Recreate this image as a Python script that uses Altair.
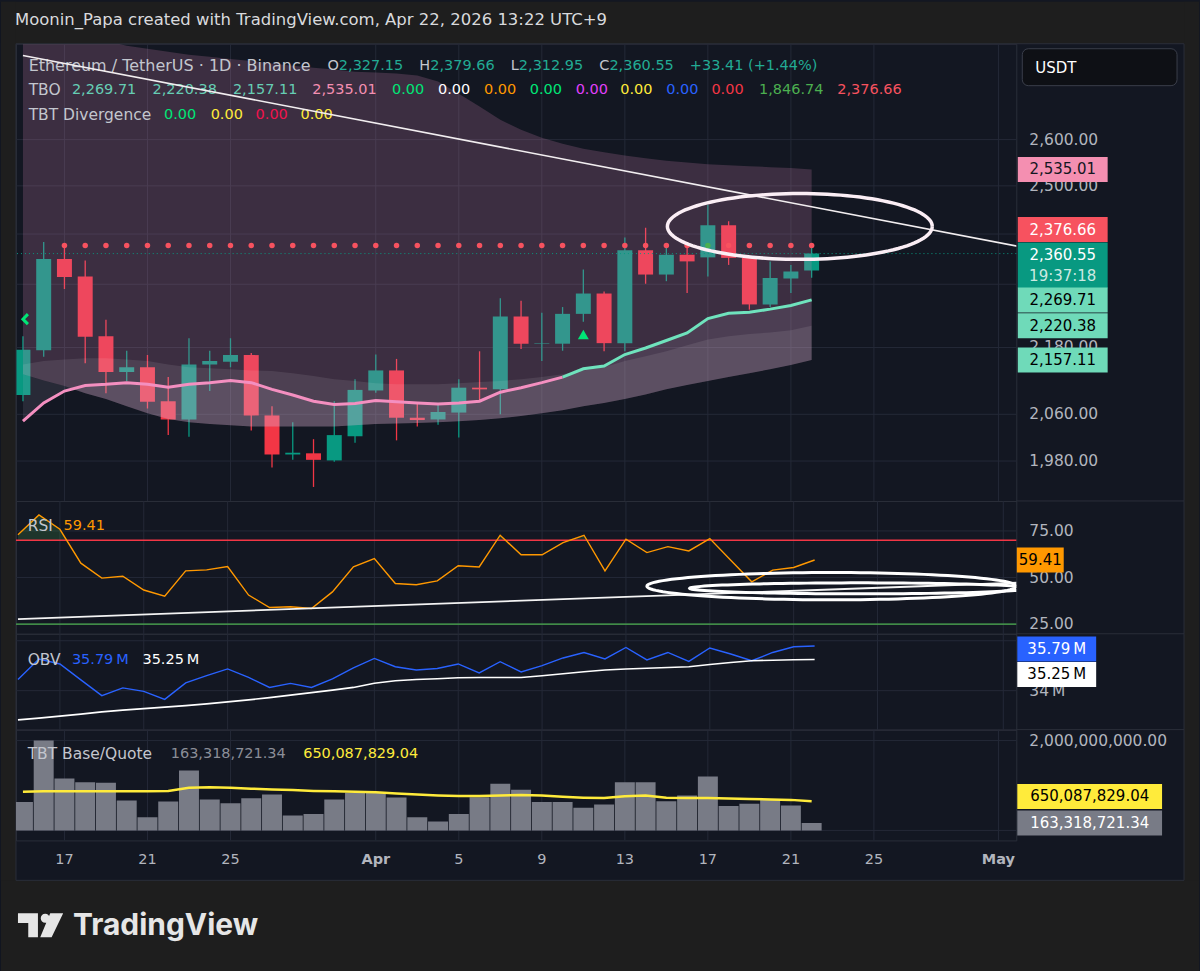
import altair as alt
import numpy as np
import pandas as pd

# ---------------- categories ----------------
dates = list(pd.date_range("2026-03-15", "2026-04-22", freq="D").strftime("%Y-%m-%d"))
tick_dates = ["2026-03-17", "2026-03-21", "2026-03-25", "2026-04-01", "2026-04-05", "2026-04-09",
              "2026-04-13", "2026-04-17", "2026-04-21", "2026-04-25", "2026-05-01"]
tick_labels = ["17", "21", "25", "Apr", "5", "9", "13", "17", "21", "25", "May"]
price_ticks = [1980, 2060, 2180, 2300, 2400, 2500, 2600]
price_labelled = [1980, 2060, 2180, 2500, 2600]      # 2300 / 2400 sit under the price tags
rsi_ticks = [25, 50, 75]
obv_ticks = [34, 36]
obv_labelled = [34]                                   # 36M sits under the OBV tag
vol_ticks = [0, 2_000_000_000]
vol_labelled = [2_000_000_000]                        # 0.00 sits under the volume tag

# ---------------- ETH/USDT daily candles ----------------
open_ = [2094, 2175, 2350, 2315, 2201, 2135, 2144, 2083, 2051, 2149, 2154, 2166, 2058, 1991, 1993, 1981, 2022,
         2102, 2138, 2054, 2051, 2063, 2107, 2104, 2238, 2187, 2187, 2243, 2282, 2188, 2367, 2319, 2358, 2353,
         2418, 2352, 2261, 2311, 2327.15]
high = [2201, 2384, 2372, 2347, 2232, 2174, 2166, 2126, 2197, 2174, 2197, 2170, 2074, 2046, 2017, 2083, 2122,
        2167, 2159, 2078, 2080, 2122, 2173, 2273, 2268, 2245, 2256, 2329, 2286, 2393, 2413, 2378, 2375, 2460,
        2426, 2356, 2345, 2338, 2379.66]
low = [2083, 2163, 2291, 2151, 2097, 2119, 2070, 2024, 2021, 2101, 2144, 2032, 1969, 1982, 1937, 1979, 2011,
       2098, 2015, 2039, 2042, 2020, 2083, 2060, 2177, 2155, 2174, 2228, 2173, 2173, 2301, 2306, 2283, 2315,
       2338, 2251, 2256, 2283, 2312.95]
close = [2176, 2350, 2314, 2200, 2135, 2144, 2082, 2051, 2149, 2155, 2166, 2058, 1991, 1994, 1982, 2024, 2103,
         2138, 2054, 2050, 2064, 2107, 2104, 2238, 2187, 2188, 2243, 2282, 2188, 2367, 2319, 2358, 2345, 2418,
         2352, 2261, 2312, 2325, 2360.55]

# ---------------- TBO bands ----------------
tbo_top = [2873, 2859, 2846, 2837, 2827, 2815, 2808, 2801, 2794, 2789, 2784, 2779, 2773, 2768, 2763, 2759, 2754,
           2752, 2750, 2745, 2731, 2703, 2674, 2644, 2622, 2604, 2591, 2580, 2572, 2565, 2559, 2554, 2550, 2546,
           2544, 2542, 2540, 2538, 2535.01]
tbo_fast = [2048, 2080, 2101, 2111, 2113, 2116, 2113, 2108, 2113, 2116, 2120, 2116, 2104, 2094, 2083, 2077, 2079,
            2084, 2082, 2080, 2078, 2080, 2083, 2099, 2107, 2116, 2126, 2141, 2146, 2167, 2179, 2193, 2207, 2234,
            2244, 2246, 2252, 2259, 2269.71]
tbo_mid = [2149, 2155, 2158, 2160, 2160, 2158, 2155, 2149, 2144, 2142, 2140, 2138, 2137, 2133, 2128, 2122, 2119,
           2115, 2113, 2113, 2113, 2115, 2117, 2119, 2122, 2126, 2131, 2138, 2144, 2155, 2164, 2173, 2184, 2195,
           2201, 2205, 2208, 2212, 2220.38]
tbo_low = [2131, 2120, 2110, 2097, 2087, 2074, 2062, 2052, 2046, 2043, 2041, 2039, 2039, 2039, 2039, 2039, 2041,
           2043, 2044, 2045, 2046, 2048, 2050, 2053, 2057, 2062, 2067, 2074, 2080, 2087, 2095, 2104, 2112, 2119,
           2126, 2133, 2140, 2148, 2157.11]
tbo_level = 2376.66
fast_switch_date = "2026-04-10"

# ---------------- RSI / OBV / volume ----------------
rsi = [73.0, 83.6, 75.9, 57.7, 49.7, 50.7, 43.3, 40.0, 53.6, 54.1, 55.9, 40.6, 33.9, 34.3, 33.4, 42.3, 55.7,
       60.2, 46.8, 46.1, 48.2, 56.3, 55.7, 72.7, 62.2, 62.2, 68.7, 72.7, 53.6, 70.6, 63.4, 66.6, 64.3, 70.9,
       59.3, 47.7, 54.0, 55.4, 59.41]
obv = [34.45, 35.27, 35.07, 34.43, 33.80, 34.11, 33.97, 33.65, 34.31, 34.60, 34.87, 34.53, 34.13, 34.29, 34.13,
       34.47, 34.91, 35.29, 34.96, 34.83, 34.89, 35.07, 34.71, 35.16, 34.75, 35.00, 35.31, 35.53, 35.27, 35.73,
       35.23, 35.53, 35.17, 35.71, 35.47, 35.20, 35.53, 35.76, 35.79]
obv_ma = [32.83, 32.90, 32.98, 33.06, 33.15, 33.22, 33.28, 33.34, 33.40, 33.47, 33.55, 33.63, 33.72, 33.82, 33.92,
          34.02, 34.13, 34.30, 34.40, 34.45, 34.48, 34.52, 34.53, 34.53, 34.53, 34.60, 34.68, 34.76, 34.83, 34.87,
          34.90, 34.93, 34.96, 35.05, 35.13, 35.20, 35.22, 35.24, 35.25]
vol_bn = [0.63, 2.0, 1.156, 1.07, 1.06, 0.667, 0.296, 0.644, 1.333, 0.689, 0.607, 0.718, 0.8, 0.333, 0.363,
          0.689, 0.837, 0.837, 0.733, 0.296, 0.2, 0.363, 0.74, 1.037, 0.904, 0.63, 0.63, 0.504, 0.578, 1.074,
          1.074, 0.652, 0.778, 1.2, 0.541, 0.593, 0.681, 0.556, 0.16331872134]
vol_ma_bn = [0.86, 0.87, 0.87, 0.87, 0.87, 0.87, 0.87, 0.88, 0.95, 0.96, 0.95, 0.93, 0.91, 0.90, 0.88, 0.87,
             0.86, 0.85, 0.82, 0.80, 0.78, 0.765, 0.765, 0.78, 0.79, 0.78, 0.75, 0.73, 0.72, 0.76, 0.78, 0.73,
             0.72, 0.72, 0.71, 0.70, 0.69, 0.68, 0.65008782904]

# ---------------- drawings (annotations) ----------------
trend_main_dates = ["2026-03-15", "2026-05-02"]
trend_main_vals = [2792.2, 2374.6]
trend_rsi_dates = ["2026-03-15", "2026-05-02"]
trend_rsi_vals = [27.74, 47.36]
signal_up = ("2026-04-11", 2204)

# ---------------- style ----------------
FONT = "DejaVu Sans"
GRID = "#242937"
LBL = "#b2b5be"
GREEN = "#089981"
RED = "#f23645"
FRAME = "#1e1e1e"
BORDER = "#2a2e39"
W = 1002
ONE = pd.DataFrame({"k": [0]})

BASE = pd.Timestamp("2026-03-17")


def to_day(s):
    return float((pd.Timestamp(s) - BASE).days)


days = [to_day(d) for d in dates]
tick_days = [to_day(d) for d in tick_dates]
xs = alt.Scale(domain=[-2.095, 45.62], nice=False, zero=False)
XN = alt.X("day:Q", scale=xs, axis=None)


def txt(x, y, s, color, size=15.5, weight="normal", align="left", font=FONT):
    return alt.Chart(ONE).mark_text(text=s, color=color, fontSize=size, fontWeight=weight, align=align,
                                    baseline="middle", font=font).encode(x=alt.value(x), y=alt.value(y))


def box(x0, x1, y0, y1, **kw):
    return alt.Chart(ONE).mark_rect(**kw).encode(x=alt.value(x0), x2=alt.value(x1), y=alt.value(y0),
                                                 y2=alt.value(y1))


def hgrid(vals, yscale):
    return alt.Chart(pd.DataFrame({"v": vals})).mark_rule(color=GRID, strokeWidth=1).encode(
        y=alt.Y("v:Q", scale=yscale, axis=None))


def vgrid():
    return alt.Chart(pd.DataFrame({"day": tick_days})).mark_rule(color=GRID, strokeWidth=1).encode(
        x=alt.X("day:Q", scale=xs, axis=None))


def ylabels(vals, texts, yscale):
    return alt.Chart(pd.DataFrame({"v": vals, "s": texts})).mark_text(
        align="left", baseline="middle", fontSize=15.5, color=LBL, font=FONT).encode(
        x=alt.value(1015), y=alt.Y("v:Q", scale=yscale, axis=None), text="s:N")


def tag(val, fill, xc, w, yscale, texts, dy=0, h=25):
    d = pd.DataFrame({"v": [val]})
    k = h / w
    shape = f"M-1,-{k:.4f}H1V{k:.4f}H-1Z"
    out = [alt.Chart(d).mark_point(shape=shape, size=w * w, filled=True, opacity=1, color=fill, strokeWidth=0,
                                   yOffset=dy).encode(x=alt.value(xc), y=alt.Y("v:Q", scale=yscale, axis=None))]
    for s, col, tdy in texts:
        out.append(alt.Chart(d).mark_text(text=s, color=col, fontSize=15, font=FONT, align="center",
                                          baseline="middle", yOffset=tdy).encode(
            x=alt.value(xc), y=alt.Y("v:Q", scale=yscale, axis=None)))
    return out


# ================= main price panel (origin = page (15, 42)) =================
ys_main = alt.Scale(type="log", domain=[1914.1, 2820], nice=False)
cand = pd.DataFrame({"day": days, "open": open_, "high": high, "low": low, "close": close})
ccol = alt.condition("datum.close >= datum.open", alt.value(GREEN), alt.value(RED))

wicks = alt.Chart(cand).mark_rule(strokeWidth=1.3, clip=True).encode(
    x=XN, y=alt.Y("low:Q", scale=ys_main, axis=None), y2="high:Q", color=ccol)
bodies = alt.Chart(cand).mark_bar(width=15, clip=True).encode(
    x=XN, y=alt.Y("open:Q", scale=ys_main, axis=None), y2="close:Q", color=ccol)

bands = pd.DataFrame({"day": days, "top": tbo_top, "a": tbo_mid, "c": tbo_low, "fast": tbo_fast})
fill_purple = alt.Chart(bands).mark_area(color="#e38ac0", opacity=0.2, clip=True).encode(
    x=XN, y=alt.Y("top:Q", scale=ys_main, axis=None), y2="c:Q")
fill_fast = alt.Chart(bands).mark_area(color="#c9b3d6", opacity=0.12, clip=True).encode(
    x=XN, y=alt.Y("fast:Q", scale=ys_main, axis=None), y2="c:Q")
fill_band = alt.Chart(bands).mark_area(color="#ffffff", opacity=0.09, clip=True).encode(
    x=XN, y=alt.Y("a:Q", scale=ys_main, axis=None), y2="c:Q")

sw = to_day(fast_switch_date)
fast_pink = alt.Chart(bands[bands["day"] <= sw]).mark_line(color="#f48fc0", strokeWidth=3, clip=True).encode(
    x=XN, y=alt.Y("fast:Q", scale=ys_main, axis=None))
fast_teal = alt.Chart(bands[bands["day"] >= sw]).mark_line(color="#6fe3bd", strokeWidth=3, clip=True).encode(
    x=XN, y=alt.Y("fast:Q", scale=ys_main, axis=None))

dots = pd.DataFrame({"day": days[2:], "v": [tbo_level] * len(days[2:])})
dot_layer = alt.Chart(dots).mark_circle(size=30, opacity=1).encode(
    x=XN, y=alt.Y("v:Q", scale=ys_main, axis=None),
    color=alt.condition(alt.datum.day == to_day("2026-04-17"), alt.value("#4caf50"), alt.value("#f7525f")))

last_df = pd.DataFrame({"v": [close[-1]]})
last_line = alt.Chart(last_df).mark_rule(color="#089981", strokeDash=[1, 3], strokeWidth=1).encode(
    y=alt.Y("v:Q", scale=ys_main, axis=None))

tl = pd.DataFrame({"day": [to_day(d) for d in trend_main_dates], "v": trend_main_vals})
trend_main = alt.Chart(tl).mark_line(color="#f2eef0", strokeWidth=1.6, clip=True).encode(
    x=XN, y=alt.Y("v:Q", scale=ys_main, axis=None))

tt = np.linspace(0, 2 * np.pi, 121)
ell = pd.DataFrame({"t": tt, "day": 35.43 + 6.38 * np.cos(tt), "v": 2415.5 * np.exp(0.0279 * np.sin(tt))})
ell_main = alt.Chart(ell).mark_line(color="#fbeef5", strokeWidth=3.5, clip=True).encode(
    x=XN, y=alt.Y("v:Q", scale=ys_main, axis=None), order="t:Q")

sig = pd.DataFrame({"day": [to_day(signal_up[0])], "v": [signal_up[1]]})
sig_layer = alt.Chart(sig).mark_point(shape="triangle-up", filled=True, size=120, opacity=1,
                                      color="#00e676").encode(x=XN, y=alt.Y("v:Q", scale=ys_main, axis=None))
chev = pd.DataFrame({"day": [-1.88], "v": [2233]})
chev_layer = alt.Chart(chev).mark_point(shape="M0.5,-1L-0.5,0L0.5,1", filled=False, size=100, opacity=1,
                                        strokeWidth=3, color="#00e676").encode(
    x=XN, y=alt.Y("v:Q", scale=ys_main, axis=None))

GREY_TXT = "#c3c6ce"
TEAL_TXT = "#22ab94"
NUM = 14.5
head = [
    txt(12.7, 22, "Ethereum / TetherUS · 1D · Binance", GREY_TXT, 16),
    txt(312, 22, "O", GREY_TXT, NUM), txt(323.4, 22, "2,327.15", TEAL_TXT, NUM),
    txt(404, 22, "H", GREY_TXT, NUM), txt(414.9, 22, "2,379.66", TEAL_TXT, NUM),
    txt(495.6, 22, "L", GREY_TXT, NUM), txt(503.7, 22, "2,312.95", TEAL_TXT, NUM),
    txt(584.3, 22, "C", GREY_TXT, NUM), txt(594.4, 22, "2,360.55", TEAL_TXT, NUM),
    txt(675, 22, "+33.41 (+1.44%)", TEAL_TXT, NUM),
    txt(12.7, 46, "TBO", GREY_TXT),
    txt(12.7, 71, "TBT Divergence", GREY_TXT),
]
row2 = [("2,269.71", "#66cdb4"), ("2,220.38", "#66cdb4"), ("2,157.11", "#66cdb4"), ("2,535.01", "#f48fb1"),
        ("0.00", "#00e676"), ("0.00", "#ffffff"), ("0.00", "#ff9800"), ("0.00", "#00e676"),
        ("0.00", "#e040fb"), ("0.00", "#ffeb3b"), ("0.00", "#2962ff"), ("0.00", "#f23645"),
        ("1,846.74", "#4caf50"), ("2,376.66", "#f7525f")]
row2_x = [71, 151.7, 232.3, 311.7, 391.7, 437.8, 483.8, 529.7, 575.6, 620.3, 666.3, 711.6, 759.3, 837.7]
for (s, col), px in zip(row2, row2_x):
    head.append(txt(px - 15, 46, s, col, NUM))
row3 = [("0.00", "#00e676"), ("0.00", "#ffeb3b"), ("0.00", "#f0134d"), ("0.00", "#ffeb3b")]
row3_x = [163.3, 210, 255, 300]
for (s, col), px in zip(row3, row3_x):
    head.append(txt(px - 15, 71, s, col, NUM))

MXC = 1048.5
main_tags = []
main_tags += tag(2535.01, "#f48fb1", MXC, 90, ys_main, [("2,535.01", "#131722", 0)])
main_tags += tag(tbo_level, "#f7525f", MXC, 90, ys_main, [("2,376.66", "#ffffff", -16)], dy=-16)
main_tags += tag(close[-1], "#089981", MXC, 90, ys_main, [("2,360.55", "#ffffff", 1), ("19:37:18", "#cde9e2", 22)],
                 dy=11.8, h=46)
main_tags += tag(2269.71, "#6fdab9", MXC, 90, ys_main, [("2,269.71", "#000000", 0)])
main_tags += tag(2220.38, "#6fdab9", MXC, 90, ys_main, [("2,220.38", "#000000", 0)])
main_tags += tag(2157.11, "#6fdab9", MXC, 90, ys_main, [("2,157.11", "#000000", 0)])

# page frame, drawn in main-panel coordinates (page = panel + (15, 42))
T_path = "M-1,-0.533H-0.111V0.533H-0.542V-0.102H-1Z"
C_path = "M0.413,-0.311A0.2,0.2,0,1,1,0.013,-0.311A0.2,0.2,0,1,1,0.413,-0.311Z"
S_path = "M0.436,-0.533L1.013,-0.533L0.498,0.533L-0.009,0.533Z"
logo_path = " ".join([T_path, C_path, S_path])
frame = [
    box(-15, 1185, -42, 0, color=FRAME),
    box(-15, 0, -42, 929, color=FRAME),
    box(1170, 1185, -42, 929, color=FRAME),
    box(-15, 1185, 838, 929, color=FRAME),
    box(0, 1170, 0, 838, fillOpacity=0, stroke=BORDER, strokeWidth=1),
]
for yy in [458, 591, 687]:
    frame.append(alt.Chart(ONE).mark_rule(color=BORDER, strokeWidth=1).encode(
        x=alt.value(1002), x2=alt.value(1170), y=alt.value(yy)))
frame += [
    box(1008, 1163, 5, 42, fill="#0e1015", stroke="#3a3e4a", strokeWidth=1, cornerRadius=6),
    txt(1021, 24, "USDT", "#ffffff", 15),
    txt(-1, -24, "Moonin_Papa created with TradingView.com, Apr 22, 2026 13:22 UTC+9", "#d9dadd", 16.5),
    alt.Chart(ONE).mark_point(shape=logo_path, size=45 * 45, filled=True, opacity=1, color="#e6e6e6",
                              strokeWidth=0).encode(x=alt.value(24.5), y=alt.value(883)),
    txt(57, 884, "TradingView", "#e6e6e6", 30, weight="bold", font="Inter, Lato, DejaVu Sans"),
]

main = alt.layer(
    vgrid(), hgrid(price_ticks, ys_main),
    ylabels(price_labelled, [f"{v:,.2f}" for v in price_labelled], ys_main),
    wicks, bodies, fill_purple, fill_fast, fill_band, fast_pink, fast_teal, dot_layer, last_line,
    sig_layer, chev_layer, *head, trend_main, ell_main, *main_tags, *frame
).properties(width=W, height=458)

# ================= RSI panel =================
ys_rsi = alt.Scale(domain=[19.84, 91.08], nice=False, zero=False)
rsi_df = pd.DataFrame({"day": days, "v": rsi})


def above(dd, vals, thr):
    xs_, ys_ = [], []
    for i in range(len(vals)):
        if i > 0 and (vals[i - 1] - thr) * (vals[i] - thr) < 0:
            f = (thr - vals[i - 1]) / (vals[i] - vals[i - 1])
            xs_.append(dd[i - 1] + f * (dd[i] - dd[i - 1]))
            ys_.append(thr)
        xs_.append(dd[i])
        ys_.append(max(vals[i], thr))
    return pd.DataFrame({"day": xs_, "v": ys_, "thr": [thr] * len(xs_)})


ob = above(days, rsi, 70)
rsi_fill = alt.Chart(ob).mark_area(color="#4caf50", opacity=0.2, clip=True).encode(
    x=XN, y=alt.Y("v:Q", scale=ys_rsi, axis=None), y2="thr:Q")
rsi_upper = alt.Chart(pd.DataFrame({"v": [70]})).mark_rule(strokeWidth=1.3, color="#f23645").encode(
    y=alt.Y("v:Q", scale=ys_rsi, axis=None))
rsi_lower = alt.Chart(pd.DataFrame({"v": [25]})).mark_rule(strokeWidth=1.3, color="#4caf50").encode(
    y=alt.Y("v:Q", scale=ys_rsi, axis=None))
rsi_line = alt.Chart(rsi_df).mark_line(color="#ff9800", strokeWidth=1.4, clip=True).encode(
    x=XN, y=alt.Y("v:Q", scale=ys_rsi, axis=None))
tr = pd.DataFrame({"day": [to_day(d) for d in trend_rsi_dates], "v": trend_rsi_vals})
rsi_trend = alt.Chart(tr).mark_line(color="#f4f4f4", strokeWidth=1.8, clip=True).encode(
    x=XN, y=alt.Y("v:Q", scale=ys_rsi, axis=None))
e1 = pd.DataFrame({"t": tt, "day": 36.81 + 8.81 * np.cos(tt), "v": 45.37 + 7.31 * np.sin(tt)})
e2 = pd.DataFrame({"t": tt, "day": 38.14 + 8.1 * np.cos(tt), "v": 44.2 + 2.95 * np.sin(tt)})
rsi_e1 = alt.Chart(e1).mark_line(color="#ffffff", strokeWidth=3, clip=True).encode(
    x=XN, y=alt.Y("v:Q", scale=ys_rsi, axis=None), order="t:Q")
rsi_e2 = alt.Chart(e2).mark_line(color="#ffffff", strokeWidth=3, clip=True).encode(
    x=XN, y=alt.Y("v:Q", scale=ys_rsi, axis=None), order="t:Q")
rsi_txt = [txt(11.7, 25, "RSI", GREY_TXT), txt(47.7, 25, "59.41", "#ff9800", NUM)]
rsi_tag = tag(rsi[-1], "#ff9800", 1026, 47, ys_rsi, [("59.41", "#000000", 0)])
rsi_panel = alt.layer(
    vgrid(), hgrid(rsi_ticks, ys_rsi), ylabels(rsi_ticks, [f"{v:.2f}" for v in rsi_ticks], ys_rsi),
    rsi_fill, rsi_upper, rsi_lower, rsi_line, rsi_trend, rsi_e1, rsi_e2, *rsi_txt, *rsi_tag
).properties(width=W, height=133)

# ================= OBV panel =================
ys_obv = alt.Scale(domain=[32.44, 36.28], nice=False, zero=False)
obv_df = pd.DataFrame({"day": days, "obv": obv, "ma": obv_ma})
obv_line = alt.Chart(obv_df).mark_line(color="#2962ff", strokeWidth=1.4, clip=True).encode(
    x=XN, y=alt.Y("obv:Q", scale=ys_obv, axis=None))
obv_ma_line = alt.Chart(obv_df).mark_line(color="#ffffff", strokeWidth=1.6, clip=True).encode(
    x=XN, y=alt.Y("ma:Q", scale=ys_obv, axis=None))
obv_txt = [txt(11.7, 26.3, "OBV", GREY_TXT), txt(56, 26.3, "35.79\u2009M", "#2962ff", NUM),
           txt(126.7, 26.3, "35.25\u2009M", "#ffffff", NUM)]
obv_tags = tag(obv[-1], "#2962ff", 1042.5, 79, ys_obv, [("35.79\u2009M", "#ffffff", 3)], dy=3)
obv_tags += tag(obv_ma[-1], "#ffffff", 1042.5, 79, ys_obv, [("35.25\u2009M", "#000000", 15)], dy=15)
obv_panel = alt.layer(
    vgrid(), hgrid(obv_ticks, ys_obv), ylabels(obv_labelled, [f"{v}\u2009M" for v in obv_labelled], ys_obv),
    obv_line, obv_ma_line, *obv_txt, *obv_tags
).properties(width=W, height=96)

# ================= volume panel =================
ys_vol = alt.Scale(domain=[-0.2222e9, 2.2444e9], nice=False, zero=False)
vol_df = pd.DataFrame({"day": days, "vol": np.array(vol_bn) * 1e9, "ma": np.array(vol_ma_bn) * 1e9,
                       "zero": [0.0] * len(days)})
vol_bars = alt.Chart(vol_df).mark_bar(width=20, color="#787b86", opacity=1, clip=True).encode(
    x=XN, y=alt.Y("vol:Q", scale=ys_vol, axis=None), y2="zero:Q")
vol_ma = alt.Chart(vol_df).mark_line(color="#ffeb3b", strokeWidth=2.5, clip=True).encode(
    x=XN, y=alt.Y("ma:Q", scale=ys_vol, axis=None))
vol_txt = [txt(11.7, 24.3, "TBT Base/Quote", GREY_TXT), txt(155, 24.3, "163,318,721.34", "#8b8e98", NUM),
           txt(287.7, 24.3, "650,087,829.04", "#ffeb3b", NUM)]
vol_tags = tag(vol_ma_bn[-1] * 1e9, "#ffeb3b", 1075.5, 145, ys_vol, [("650,087,829.04", "#000000", -4.75)],
               dy=-4.75)
vol_tags += tag(vol_bn[-1] * 1e9, "#787b86", 1075.5, 145, ys_vol, [("163,318,721.34", "#ffffff", 0)])

xl = pd.DataFrame({"day": tick_days, "s": tick_labels})
xl["bold"] = xl["s"].isin(["Apr", "May"])
xlab_n = alt.Chart(xl[~xl["bold"]]).mark_text(fontSize=14.5, color=LBL, font=FONT, baseline="middle").encode(
    x=alt.X("day:Q", scale=xs, axis=None), y=alt.value(131), text="s:N")
xlab_b = alt.Chart(xl[xl["bold"]]).mark_text(fontSize=14.5, color=LBL, font=FONT, baseline="middle",
                                             fontWeight="bold").encode(
    x=alt.X("day:Q", scale=xs, axis=None), y=alt.value(131), text="s:N")

vol_panel = alt.layer(
    vgrid(), hgrid(vol_ticks, ys_vol), ylabels(vol_labelled, [f"{v:,.2f}" for v in vol_labelled], ys_vol),
    vol_bars, vol_ma, *vol_txt, *vol_tags, xlab_n, xlab_b
).properties(width=W, height=111)

chart = alt.vconcat(main, rsi_panel, obv_panel, vol_panel, spacing=0, bounds="flush").properties(
    padding=0
).configure(background="#131722", font=FONT).configure_view(stroke=BORDER, strokeWidth=1)

chart.save("out.html", embed_options={"renderer": "svg", "actions": False})
